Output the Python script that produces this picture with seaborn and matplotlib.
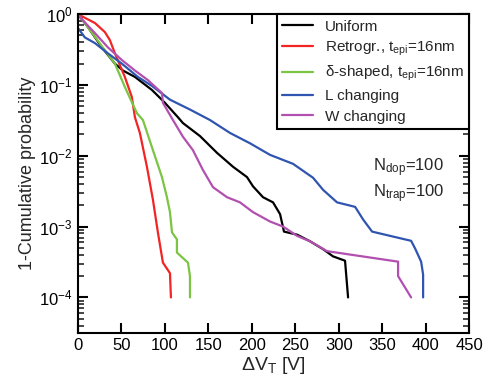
import numpy as np
import pandas as pd
import matplotlib
matplotlib.use("Agg")
import matplotlib.pyplot as plt
import seaborn as sns
from matplotlib.ticker import LogLocator, NullFormatter

# ---- data ----
uniform_v = [0, 11.5, 27.6, 42.6, 51.8, 65.6, 85.2, 100.1, 115.1, 120.8, 140.4, 160, 178.4, 194.5,
             201.4, 212.9, 224.4, 232.5, 237, 252, 267, 282, 293.4, 307.2, 310.7]
uniform_p = [1, 0.66, 0.34, 0.2, 0.16, 0.13, 0.085, 0.056, 0.035, 0.029, 0.019, 0.011, 0.0070, 0.0050,
             0.0037, 0.0026, 0.0022, 0.0015, 8.5e-4, 7.7e-4, 6.2e-4, 4.8e-4, 3.8e-4, 3.3e-4, 1e-4]

retro_v = [0, 19.6, 31, 36.8, 42.6, 54, 62, 65.6, 71.3, 79.4, 86.3, 92, 97.8, 105.9, 107]
retro_p = [1, 0.75, 0.56, 0.43, 0.28, 0.13, 0.068, 0.035, 0.021, 0.007, 0.0024, 8.3e-4, 3.1e-4, 2.2e-4, 1e-4]

delta_v = [0, 13.8, 31, 42.6, 54, 67.9, 74.8, 86.3, 96.7, 102.4, 105.9, 108.2, 113.9, 113.9, 126.6, 128.9, 128.9]
delta_p = [1, 0.6, 0.31, 0.2, 0.094, 0.04, 0.032, 0.012, 0.005, 0.0026, 0.0016, 8.3e-4, 6.6e-4, 4.3e-4,
           3.1e-4, 2e-4, 1e-4]

lchg_v = [0, 8, 19.6, 34.5, 50.6, 69, 85.2, 105.9, 128.9, 151.9, 175, 198, 221, 247.4, 270.4, 282, 298,
          318.8, 328, 338.3, 359, 383.2, 387.8, 394.7, 397, 397]
lchg_p = [0.64, 0.47, 0.39, 0.28, 0.20, 0.13, 0.097, 0.062, 0.045, 0.032, 0.021, 0.015, 0.0103, 0.0077,
          0.0049, 0.0033, 0.0022, 0.0019, 0.00126, 8.5e-4, 7.4e-4, 6.3e-4, 4.9e-4, 3.2e-4, 2.1e-4, 1e-4]

wchg_v = [0, 2.3, 19.6, 34.5, 50.6, 65.6, 80.6, 96.7, 97.8, 109.3, 120.8, 132.3, 143.8, 155.4, 171.5, 186.4,
          201.4, 221, 236, 252, 267, 286.5, 368.2, 368.2, 383.2]
wchg_p = [1, 0.91, 0.54, 0.34, 0.225, 0.16, 0.117, 0.077, 0.056, 0.032, 0.0186, 0.012, 0.0063, 0.0036,
          0.0026, 0.0022, 0.0016, 0.00118, 0.001, 7.4e-4, 6.2e-4, 4.5e-4, 3.2e-4, 2e-4, 1e-4]

labels = ["Uniform", "Retrogr., t$_{epi}$=16nm", "\u03b4-shaped, t$_{epi}$=16nm", "L changing", "W changing"]
colors = ["#000000", "#f22424", "#7cc443", "#2f55b0", "#b250b0"]
x_ticks = [0, 50, 100, 150, 200, 250, 300, 350, 400, 450]

series = [(uniform_v, uniform_p), (retro_v, retro_p), (delta_v, delta_p), (lchg_v, lchg_p), (wchg_v, wchg_p)]
frames = []
for lab, (v, p) in zip(labels, series):
    frames.append(pd.DataFrame({"dV": v, "P": p, "series": lab}))
df = pd.concat(frames, ignore_index=True)

# ---- style ----
sns.set_theme(style="ticks")
plt.rcParams["font.family"] = ["Liberation Sans", "DejaVu Sans"]
plt.rcParams["mathtext.default"] = "regular"
plt.rcParams["axes.linewidth"] = 1.5

fig = plt.figure(figsize=(4.96, 3.83), dpi=100)
ax = fig.add_axes([0.157, 0.131, 0.789, 0.832])

sns.lineplot(data=df, x="dV", y="P", hue="series", hue_order=labels, palette=colors,
             sort=False, estimator=None, linewidth=1.6, ax=ax)

ax.set_yscale("log")
ax.set_xlim(0, 450)
ax.set_ylim(10 ** -4.5, 1)
ax.set_xticks(x_ticks)
ax.yaxis.set_major_locator(LogLocator(base=10, numticks=10))
ax.yaxis.set_minor_locator(LogLocator(base=10, subs=np.arange(2, 10), numticks=20))
ax.yaxis.set_minor_formatter(NullFormatter())

ax.tick_params(axis="both", which="major", direction="in", length=7, width=1.5,
               top=True, right=True, labelsize=12, pad=4, colors="black")
ax.tick_params(axis="y", which="minor", direction="in", length=4, width=1.2, left=True, right=True)
for s in ax.spines.values():
    s.set_color("black")
    s.set_linewidth(1.5)

ax.set_xlabel("\u0394V$_T$ [V]", fontsize=14, labelpad=1)
ax.set_ylabel("1-Cumulative probability", fontsize=13, labelpad=2)

leg = ax.legend(loc="upper right", borderaxespad=0, fontsize=11, frameon=True, fancybox=False,
                edgecolor="black", framealpha=1, handlelength=2.0, handletextpad=0.8,
                labelspacing=0.4, borderpad=0.35)
leg.get_frame().set_linewidth(1.5)
for h in leg.get_lines():
    h.set_linewidth(1.6)

ax.text(0.755, 0.555, "N$_{dop}$=100\nN$_{trap}$=100", transform=ax.transAxes, fontsize=12,
        ha="left", va="top", linespacing=1.25)

fig.savefig("out.png", dpi=100)
